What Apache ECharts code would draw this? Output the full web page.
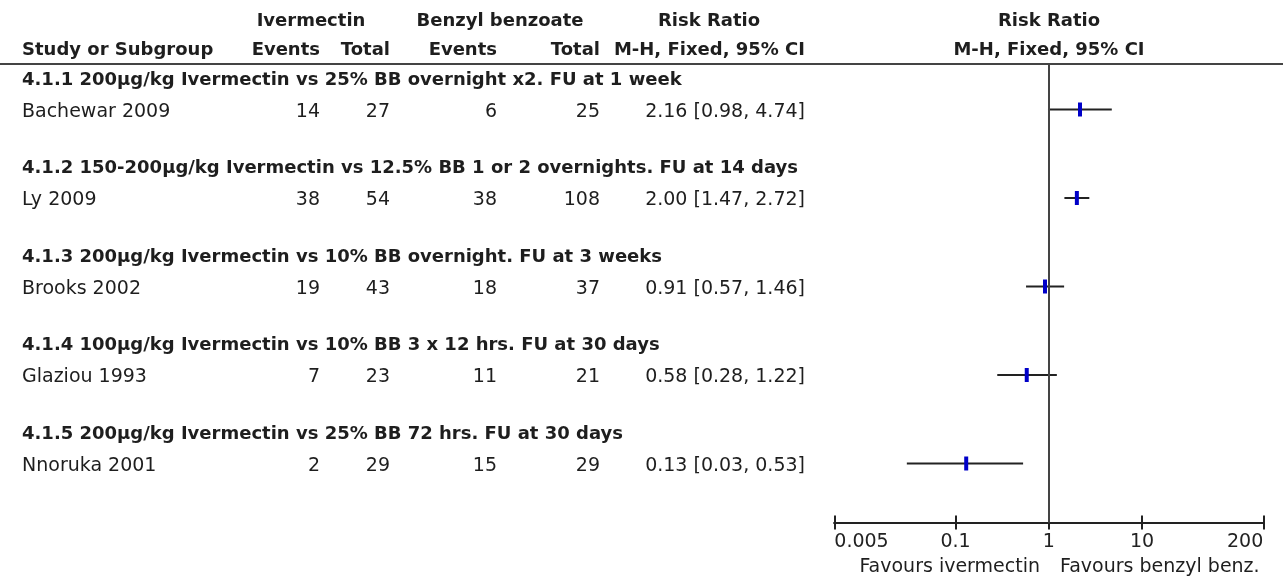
<!DOCTYPE html>
<html>
<head>
<meta charset="utf-8">
<script src="https://cdn.jsdelivr.net/npm/echarts@6/dist/echarts.min.js"></script>
<style>html,body{margin:0;padding:0;background:#fff;}#c{width:1283px;height:581px;}</style>
</head>
<body>
<div id="c"></div>
<script>
// ---- data ----
const subgroups = [
  '4.1.1 200µg/kg Ivermectin vs 25% BB overnight x2. FU at 1 week',
  '4.1.2 150-200µg/kg Ivermectin vs 12.5% BB 1 or 2 overnights. FU at 14 days',
  '4.1.3 200µg/kg Ivermectin vs 10% BB overnight. FU at 3 weeks',
  '4.1.4 100µg/kg Ivermectin vs 10% BB 3 x 12 hrs. FU at 30 days',
  '4.1.5 200µg/kg Ivermectin vs 25% BB 72 hrs. FU at 30 days'
];
const studies = ['Bachewar 2009', 'Ly 2009', 'Brooks 2002', 'Glaziou 1993', 'Nnoruka 2001'];
const ivEvents = [14, 38, 19, 7, 2];
const ivTotal = [27, 54, 43, 23, 29];
const bbEvents = [6, 38, 18, 11, 15];
const bbTotal = [25, 108, 37, 21, 29];
const rr = [2.16, 2.00, 0.91, 0.58, 0.13];
const ciLow = [0.98, 1.47, 0.57, 0.28, 0.03];
const ciHigh = [4.74, 2.72, 1.46, 1.22, 0.53];
const tickValues = [0.005, 0.1, 1, 10, 200];
const tickLabels = ['0.005', '0.1', '1', '10', '200'];
const favourLeft = 'Favours ivermectin';
const favourRight = 'Favours benzyl benz.';

// ---- layout ----
const W = 1283, H = 581;
const ROW0 = 21, PITCH = 29.5;
const headRows = subgroups.map((s, i) => 2 + 3 * i);
const studyRows = studies.map((s, i) => 3 + 3 * i);
const PLOT_YMIN = 1.4576, PLOT_YMAX = 17;
const FONT = 'DejaVu Sans';
const BOLD = 18, REG = 19;
const col = {name: 22, ivE: 320, ivT: 390, ivHead: 311, bbE: 497, bbT: 600, bbHead: 500, ci: 805, rrHead: 709, plotHead: 1049};

const cells = [];
function cell(x, r, text, align, bold) { cells.push({x, r, text, align, bold}); }
cell(col.ivHead, 0, 'Ivermectin', 'center', true);
cell(col.bbHead, 0, 'Benzyl benzoate', 'center', true);
cell(col.rrHead, 0, 'Risk Ratio', 'center', true);
cell(col.plotHead, 0, 'Risk Ratio', 'center', true);
cell(col.name, 1, 'Study or Subgroup', 'left', true);
cell(col.ivE, 1, 'Events', 'right', true);
cell(col.ivT, 1, 'Total', 'right', true);
cell(col.bbE, 1, 'Events', 'right', true);
cell(col.bbT, 1, 'Total', 'right', true);
cell(col.ci, 1, 'M-H, Fixed, 95% CI', 'right', true);
cell(col.plotHead, 1, 'M-H, Fixed, 95% CI', 'center', true);
subgroups.forEach((s, i) => cell(col.name, headRows[i], s, 'left', true));
studies.forEach((s, i) => {
  const r = studyRows[i] + 0.07;
  cell(col.name, r, s, 'left', false);
  cell(col.ivE, r, String(ivEvents[i]), 'right', false);
  cell(col.ivT, r, String(ivTotal[i]), 'right', false);
  cell(col.bbE, r, String(bbEvents[i]), 'right', false);
  cell(col.bbT, r, String(bbTotal[i]), 'right', false);
  cell(col.ci, r, rr[i].toFixed(2) + ' [' + ciLow[i].toFixed(2) + ', ' + ciHigh[i].toFixed(2) + ']', 'right', false);
});
cell(1040, 18.5, favourLeft, 'right', false);
cell(1060, 18.5, favourRight, 'left', false);

const chart = echarts.init(document.getElementById('c'), null, {renderer: 'canvas'});
const axisTop = ROW0 + PITCH * PLOT_YMIN;
const axisBottom = ROW0 + PITCH * PLOT_YMAX;

function tickLabel(v) {
  let best = 0;
  tickValues.forEach((t, i) => { if (Math.abs(Math.log10(t) - Math.log10(v)) < Math.abs(Math.log10(tickValues[best]) - Math.log10(v))) best = i; });
  return tickLabels[best];
}

chart.setOption({
  animation: false,
  backgroundColor: '#fff',
  grid: [
    {left: 0, top: 0, width: W, height: H},
    {left: 834.3, right: W - 1263.3, top: axisTop, bottom: H - axisBottom}
  ],
  xAxis: [
    {type: 'value', gridIndex: 0, min: 0, max: W, show: false},
    {type: 'log', logBase: 10, gridIndex: 1, min: 0.005, max: 200, position: 'bottom',
      axisLine: {show: true, lineStyle: {color: '#222', width: 2}},
      axisTick: {show: true, inside: false, length: 7, lineStyle: {color: '#222', width: 2}, customValues: tickValues},
      axisLabel: {show: true, customValues: tickValues, formatter: tickLabel, margin: 10,
        color: '#222', fontFamily: FONT, fontSize: REG, alignMinLabel: 'left', alignMaxLabel: 'right'},
      splitLine: {show: false}, minorTick: {show: false}},
    {type: 'log', logBase: 10, gridIndex: 1, min: 0.005, max: 200, position: 'bottom',
      axisLine: {show: true, lineStyle: {color: '#222', width: 2}},
      axisTick: {show: true, inside: true, length: 7, lineStyle: {color: '#222', width: 2}, customValues: tickValues},
      axisLabel: {show: false}, splitLine: {show: false}}
  ],
  yAxis: [
    {type: 'value', gridIndex: 0, inverse: true, min: -ROW0 / PITCH, max: (H - ROW0) / PITCH, show: false},
    {type: 'value', gridIndex: 1, inverse: true, min: PLOT_YMIN, max: PLOT_YMAX, show: false}
  ],
  series: [
    {
      type: 'custom', xAxisIndex: 0, yAxisIndex: 0, silent: true,
      data: cells.map(c => [c.x, c.r]),
      renderItem: function (params, api) {
        const c = cells[params.dataIndex];
        const p = api.coord([api.value(0), api.value(1)]);
        return {type: 'text', x: p[0], y: p[1], style: {
          text: c.text, textAlign: c.align, textVerticalAlign: 'middle', fill: '#1e1e1e',
          font: (c.bold ? 'bold ' + BOLD : REG) + 'px "' + FONT + '"'}};
      },
      markLine: {silent: true, symbol: 'none', label: {show: false},
        lineStyle: {color: '#444', width: 2, type: 'solid'},
        data: [{yAxis: PLOT_YMIN}]}
    },
    {
      type: 'custom', xAxisIndex: 1, yAxisIndex: 1, silent: true, clip: false,
      data: studies.map((s, i) => [ciLow[i], ciHigh[i], rr[i], studyRows[i]]),
      encode: {x: [0, 1, 2], y: 3},
      renderItem: function (params, api) {
        const y = api.value(3);
        const a = api.coord([api.value(0), y]);
        const b = api.coord([api.value(1), y]);
        const m = api.coord([api.value(2), y]);
        return {type: 'group', children: [
          {type: 'line', shape: {x1: a[0], y1: a[1], x2: b[0], y2: b[1]}, style: {stroke: '#222', lineWidth: 2}},
          {type: 'rect', shape: {x: m[0] - 2, y: m[1] - 7, width: 4, height: 14}, style: {fill: '#0000c8'}}
        ]};
      },
      markLine: {silent: true, symbol: 'none', label: {show: false},
        lineStyle: {color: '#444', width: 2, type: 'solid'},
        data: [{xAxis: 1}]}
    }
  ]
});
</script>
</body>
</html>
